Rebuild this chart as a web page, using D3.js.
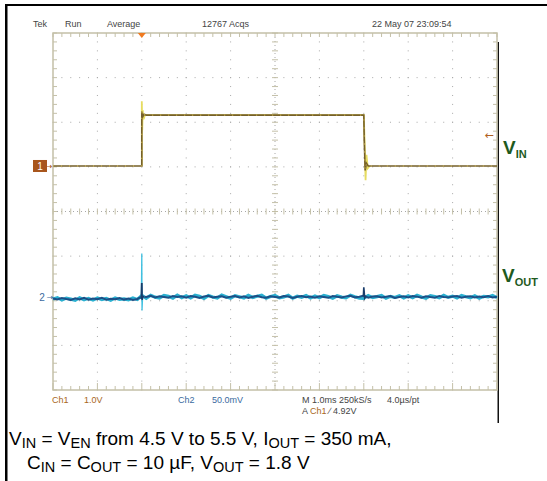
<!DOCTYPE html>
<html>
<head>
<meta charset="utf-8">
<script src="https://cdn.jsdelivr.net/npm/d3@7"></script>
<style>
  body { margin: 0; background: #fff; }
  svg { display: block; }
</style>
</head>
<body>
<svg id="scope" width="547" height="481"></svg>
<script>
// header / footer texts of the scope screen
const headerTexts = ["Tek", "Run", "Average", "12767 Acqs", "22 May 07 23:09:54"];
const ch1Scale = ["Ch1", "1.0V"];
const ch2Scale = ["Ch2", "50.0mV"];
const timeBase = ["M 1.0ms 250kS/s", "4.0\u00b5s/pt"];

// Ch1 (VIN) : time in ms, value in V
const ch1Time  = [0, 2.0, 2.0, 2.02, 2.05, 2.1, 7.0, 7.01, 7.03, 7.06, 7.1, 10];
const ch1Volts = [4.5, 4.5, 5.72, 5.6, 5.66, 5.64, 5.64, 5.1, 4.4, 4.56, 4.5, 4.5];
// Ch1 ringing at the edges (lighter trace)
const ch1RingTime  = [2.0, 2.0, 2.01, 2.02, 2.04, 2.07, 7.0, 7.02, 7.04, 7.06, 7.09, 7.13];
const ch1RingVolts = [4.5, 5.95, 5.3, 5.75, 5.55, 5.64, 5.64, 5.0, 4.18, 4.75, 4.45, 4.5];

// Ch2 (VOUT) : deviation in mV, one sample every 0.1 ms
const ch2Dark = [
  -1.4,-2.6,-0.9,-2.1,-3.0,-1.3,-2.5,-0.7,-2.8,-1.6,
  -2.3,-0.8,-2.9,-1.8,-2.4,-1.1,-2.7,-1.5,-3.1,-2.0,
   0.8, 0.2, 1.5,-0.4, 1.1, 0.3,-0.6, 1.4, 0.1, 0.9,
  -0.5, 1.2, 0.4,-0.8, 0.7, 1.6,-0.3, 0.5, 1.0,-0.7,
   0.6, 1.3,-0.2, 0.9,-0.9, 0.4, 1.5, 0.0,-0.6, 1.1,
   0.3,-0.4, 1.2, 0.7,-0.8, 0.5, 1.4,-0.1, 0.8,-0.5,
   1.0, 0.2,-0.7, 1.3, 0.4,-0.3, 0.9, 1.5,-0.2, 0.6,
   1.8,-0.6, 0.8, 1.1,-0.4, 0.5, 1.3,-0.8, 0.2, 0.9,
  -0.3, 1.2, 0.6,-0.7, 1.0, 0.1,-0.5, 1.4, 0.3,-0.2,
   0.8, 1.3,-0.6, 0.4, 1.1,-0.3, 0.7, 0.0, 1.2,-0.4, 0.5];
const ch2Light = [
  -2.0,-0.5,-3.2,-1.0,-2.2,-3.5,-0.6,-2.9,-1.3,-3.3,
  -0.9,-2.7,-1.5,-3.4,-0.8,-2.5,-1.9,-3.0,-1.0,-2.6,
   1.9,-1.2, 2.2, 0.0,-0.9, 2.0, 1.0,-1.1, 2.3,-0.5,
   1.6,-0.8, 2.1, 0.9,-1.3, 1.8, 0.2,-1.0, 2.4, 0.6,
  -1.2, 1.7, 0.4,-0.9, 2.0,-0.4, 1.1, 2.2,-1.1, 0.7,
   1.9,-0.7, 0.3, 2.1,-1.2, 1.0,-0.2, 1.8,-0.9, 1.4,
  -0.6, 2.0, 0.8,-1.1, 1.6, 0.1,-0.8, 2.2, 0.5,-1.0,
  -1.4, 1.9,-0.5, 0.6, 2.0,-1.2, 0.9,-0.3, 1.7,-0.9,
   1.5,-0.6, 2.1, 0.2,-1.1, 1.8, 0.7,-0.8, 2.0,-0.2,
   1.2,-1.0, 1.9, 0.4,-0.7, 1.6,-1.2, 1.0, 0.3, 1.8,-0.5];
const ch2SpikeTime  = [1.99, 2.0, 2.005, 2.02, 2.05];
const ch2SpikeLight = [-2, 49, -15, 3, 0];
const ch2SpikeDark  = [-2, 16, -3, 1, 0.5];
const ch2Spike2Time = [6.99, 7.0, 7.02, 7.04];
const ch2Spike2Dark = [0.5, 11, -1, 0.8];

const svg = d3.select("#scope");

const x = d3.scaleLinear().domain([0, 10]).range([53, 497]);
const yDiv = d3.scaleLinear().domain([0, 8]).range([33, 390]);
const y1 = d3.scaleLinear().domain([-0.52, 7.48]).range([390, 33]);
const y2 = d3.scaleLinear().domain([-104, 296]).range([390, 33]);

const gridCol = "#c4c0a8";
const dotCol = "#a8a8a8";
const ch2Col = "#3a6aa0";

// outer frame
svg.append("rect").attr("x", 5).attr("y", 4).attr("width", 542).attr("height", 2).attr("fill", "#000");
svg.append("rect").attr("x", 5).attr("y", 4).attr("width", 2.5).attr("height", 477).attr("fill", "#000");
svg.append("rect").attr("x", 497.5).attr("y", 42).attr("width", 1.5).attr("height", 381).attr("fill", "#111");

const grid = svg.append("g");

// dotted graticule
const minor = d3.range(0, 10.001, 0.2);
const minorY = d3.range(0, 8.001, 0.2);
d3.range(1, 10).filter(d => d !== 5).forEach(d => {
  grid.selectAll(null).data(minorY).enter().append("rect")
    .attr("x", x(d) - 0.5).attr("y", v => yDiv(v) - 0.5)
    .attr("width", 1).attr("height", 1).attr("fill", dotCol);
});
d3.range(1, 8).filter(d => d !== 4).forEach(d => {
  grid.selectAll(null).data(minor).enter().append("rect")
    .attr("x", v => x(v) - 0.5).attr("y", yDiv(d) - 0.5)
    .attr("width", 1).attr("height", 1).attr("fill", dotCol);
});

// centre cross with ticks
grid.append("line").attr("x1", x(0)).attr("x2", x(10)).attr("y1", yDiv(4)).attr("y2", yDiv(4))
  .attr("stroke", dotCol).attr("stroke-dasharray", "1,3").attr("stroke-width", 1);
grid.append("line").attr("x1", x(5)).attr("x2", x(5)).attr("y1", yDiv(0)).attr("y2", yDiv(8))
  .attr("stroke", dotCol).attr("stroke-dasharray", "1,3").attr("stroke-width", 1);
grid.selectAll(null).data(minor).enter().append("line")
  .attr("x1", d => x(d)).attr("x2", d => x(d))
  .attr("y1", yDiv(4) - 3).attr("y2", yDiv(4) + 3)
  .attr("stroke", gridCol).attr("stroke-width", 1);
grid.selectAll(null).data(minorY).enter().append("line")
  .attr("x1", x(5) - 3).attr("x2", x(5) + 3)
  .attr("y1", d => yDiv(d)).attr("y2", d => yDiv(d))
  .attr("stroke", gridCol).attr("stroke-width", 1);

// border ticks
const borderTicks = (data, pos) => grid.selectAll(null).data(data).enter().append("line")
  .attr("stroke", gridCol).attr("stroke-width", 1).each(function (d) {
    const a = pos(d);
    d3.select(this).attr("x1", a[0]).attr("y1", a[1]).attr("x2", a[2]).attr("y2", a[3]);
  });
borderTicks(minor, d => [x(d), yDiv(0), x(d), yDiv(0) + 4]);
borderTicks(minor, d => [x(d), yDiv(8), x(d), yDiv(8) - (Math.abs(d - Math.round(d)) < 1e-6 ? 7 : 4)]);
borderTicks(minorY, d => [x(0), yDiv(d), x(0) + 4, yDiv(d)]);
borderTicks(minorY, d => [x(10), yDiv(d), x(10) - 4, yDiv(d)]);

grid.append("rect").attr("x", x(0)).attr("y", yDiv(0))
  .attr("width", x(10) - x(0)).attr("height", yDiv(8) - yDiv(0))
  .attr("fill", "none").attr("stroke", gridCol).attr("stroke-width", 1.5);

// traces
const line1 = d3.line().x(d => x(d[0])).y(d => y1(d[1]));
const line2 = d3.line().x(d => x(d[0])).y(d => y2(d[1]));
const step = 0.1;

svg.append("path").datum(ch2Light.map((v, i) => [i * step, v]))
  .attr("d", line2).attr("fill", "none").attr("stroke", "#2ab0d0").attr("stroke-width", 3.2);
svg.append("path").datum(ch2Dark.map((v, i) => [i * step, v]))
  .attr("d", line2).attr("fill", "none").attr("stroke", "#1c4f86").attr("stroke-width", 2);
svg.append("path").datum(ch2SpikeTime.map((t, i) => [t, ch2SpikeLight[i]]))
  .attr("d", line2).attr("fill", "none").attr("stroke", "#40c0e0").attr("stroke-width", 1.3);
svg.append("path").datum(ch2SpikeTime.map((t, i) => [t, ch2SpikeDark[i]]))
  .attr("d", line2).attr("fill", "none").attr("stroke", "#183c6a").attr("stroke-width", 1.8);
svg.append("path").datum(ch2Spike2Time.map((t, i) => [t, ch2Spike2Dark[i]]))
  .attr("d", line2).attr("fill", "none").attr("stroke", "#183c6a").attr("stroke-width", 1.6);

svg.append("path").datum(ch1RingTime.map((t, i) => [t, ch1RingVolts[i]]))
  .attr("d", line1).attr("fill", "none").attr("stroke", "#e6dc60").attr("stroke-width", 1.8);
svg.append("path").datum(ch1Time.map((t, i) => [t, ch1Volts[i]]))
  .attr("d", line1).attr("fill", "none").attr("stroke", "#76602a").attr("stroke-width", 1.6);
svg.append("path").datum(ch1Time.map((t, i) => [t, ch1Volts[i]]))
  .attr("d", line1).attr("fill", "none").attr("stroke", "#e0c860").attr("stroke-width", 1)
  .attr("stroke-dasharray", "1,7");

// trigger markers
svg.append("path")
  .attr("d", `M${x(2) - 4},${yDiv(0)} L${x(2) + 4},${yDiv(0)} L${x(2)},${yDiv(0) + 5} Z`)
  .attr("fill", "#f07a20");
svg.append("text").attr("x", 489).attr("y", y1(5.19) + 4).attr("text-anchor", "middle")
  .attr("font-family", "DejaVu Sans").attr("font-size", 11).attr("fill", "#b06020").text("\u2190");

// channel ground markers
svg.append("rect").attr("x", 33).attr("y", y1(4.5) - 6).attr("width", 14).attr("height", 12).attr("fill", "#a8561c");
svg.append("text").attr("x", 40).attr("y", y1(4.5) + 4).attr("text-anchor", "middle")
  .attr("font-family", "Liberation Sans").attr("font-size", 10).attr("fill", "#fff").text("1");
svg.append("text").attr("x", 49).attr("y", y1(4.5) + 3).attr("text-anchor", "middle")
  .attr("font-family", "DejaVu Sans").attr("font-size", 8).attr("fill", "#a8561c").text("\u2192");
svg.append("text").attr("x", 42).attr("y", y2(0) + 3.5).attr("text-anchor", "middle")
  .attr("font-family", "Liberation Sans").attr("font-size", 10).attr("fill", ch2Col).text("2");
svg.append("text").attr("x", 50).attr("y", y2(0) + 3).attr("text-anchor", "middle")
  .attr("font-family", "DejaVu Sans").attr("font-size", 8).attr("fill", ch2Col).text("\u2192");

// header and footer
const small = "Liberation Sans Narrow, Liberation Sans, Arial";
const headerX = [33, 65, 107, 202, 372];
svg.selectAll(".hdr").data(headerTexts).enter().append("text")
  .attr("x", (d, i) => headerX[i]).attr("y", 27)
  .attr("font-family", small).attr("font-size", 9).attr("fill", "#444").text(d => d);

const foot = (txt, xx, yy, col) => svg.append("text").attr("x", xx).attr("y", yy)
  .attr("font-family", small).attr("font-size", 9).attr("fill", col).text(txt);
foot(ch1Scale[0], 52, 403, "#a8661c");
foot(ch1Scale[1], 84, 403, "#a8661c");
foot(ch2Scale[0], 178, 403, ch2Col);
foot(ch2Scale[1], 212, 403, ch2Col);
foot(timeBase[0], 302, 403, "#444");
foot(timeBase[1], 387, 403, "#444");
const trig = svg.append("text").attr("x", 302).attr("y", 414)
  .attr("font-family", small).attr("font-size", 9).attr("fill", "#444");
trig.append("tspan").text("A ");
trig.append("tspan").attr("fill", "#a8661c").text(" Ch1 ");
trig.append("tspan").text(" \u2215  4.92V");

// channel labels
const chanLabel = (main, sub, xx, yy) => {
  const t = svg.append("text").attr("x", xx).attr("y", yy)
    .attr("font-family", "Liberation Sans").attr("font-weight", "bold").attr("fill", "#1e5a1e");
  t.append("tspan").attr("font-size", 19).text(main);
  t.append("tspan").attr("font-size", 11).attr("dy", 4).text(sub);
};
chanLabel("V", "IN", 503, 154);
chanLabel("V", "OUT", 502, 282);

// caption
const caption = [
  [["V", 0], ["IN", 1], [" = V", 0], ["EN", 1], [" from 4.5 V to 5.5 V, I", 0], ["OUT", 1], [" = 350 mA,", 0]],
  [["C", 0], ["IN", 1], [" = C", 0], ["OUT", 1], [" = 10 \u00b5F, V", 0], ["OUT", 1], [" = 1.8 V", 0]]
];
const capX = [9, 27];
const capY = [445, 468.5];
caption.forEach((parts, li) => {
  const t = svg.append("text").attr("x", capX[li]).attr("y", capY[li])
    .attr("font-family", "Liberation Sans").attr("font-size", 19).attr("fill", "#000");
  let prev = 0;
  parts.forEach(p => {
    t.append("tspan").attr("font-size", p[1] ? 14.5 : 19)
      .attr("dy", (p[1] - prev) * 3).text(p[0]);
    prev = p[1];
  });
});
</script>
</body>
</html>
